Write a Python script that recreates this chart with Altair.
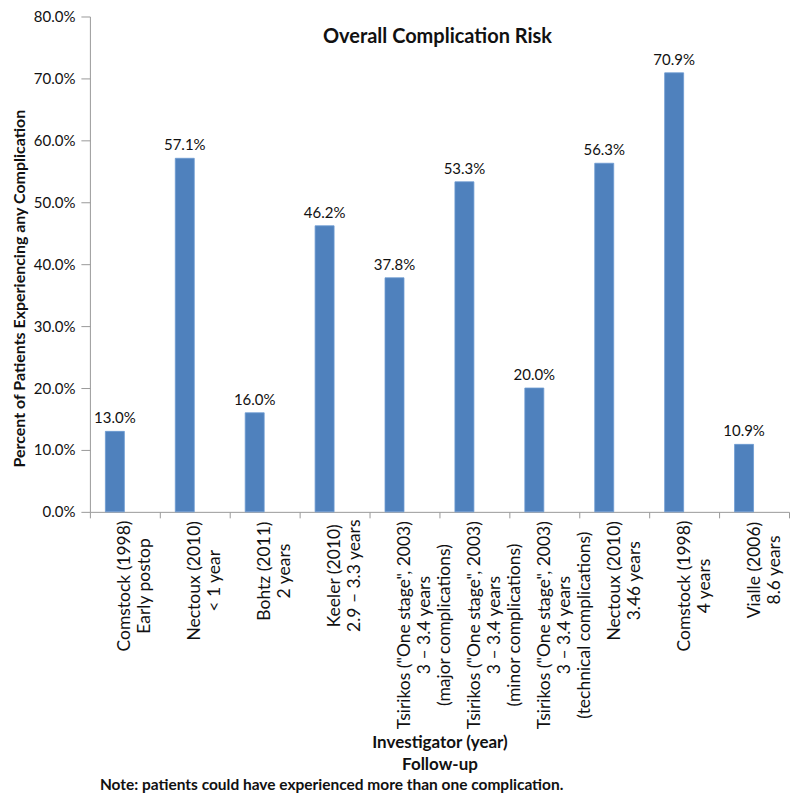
import json
import altair as alt
import pandas as pd

# study / follow-up / subgroup, one entry per bar
investigators = ["Comstock (1998)", "Nectoux (2010)", "Bohtz (2011)", "Keeler (2010)",
                 'Tsirikos ("One stage", 2003)', 'Tsirikos ("One stage", 2003)',
                 'Tsirikos ("One stage", 2003)', "Nectoux (2010)", "Comstock (1998)",
                 "Vialle (2006)"]
follow_up = ["Early postop", "< 1 year", "2 years", "2.9 – 3.3 years", "3 – 3.4 years",
             "3 – 3.4 years", "3 – 3.4 years", "3.46 years", "4 years", "8.6 years"]
subgroup = ["", "", "", "", "(major complications)", "(minor complications)",
            "(technical complications)", "", "", ""]
risk = [0.130, 0.571, 0.160, 0.462, 0.378, 0.533, 0.200, 0.563, 0.709, 0.109]
y_ticks = [0.0, 0.1, 0.2, 0.3, 0.4, 0.5, 0.6, 0.7, 0.8]

label_lines = [[p for p in parts if p] for parts in zip(investigators, follow_up, subgroup)]
labels = ["|".join(lines) for lines in label_lines]
df = pd.DataFrame({"label": labels, "risk": risk})

FONT = "Lato"
AXIS_GREY = "#9a9a9a"
XLAB_SIZE = 17.5

# rough Lato advance widths (em) so each rotated label block can be centred
# line-by-line while its longest line still starts just under the axis
NARROW = {" ": .19, "i": .23, "l": .23, "j": .23, ".": .22, ",": .22, "(": .3, ")": .3,
          '"': .37, "t": .34, "f": .31, "r": .35, "s": .4, "c": .45, "-": .33}
WIDE = {"m": .83, "O": .76, "N": .75, "V": .68, "C": .64, "K": .63, "B": .62, "T": .57}


def text_width(s):
    return sum(NARROW.get(ch, WIDE.get(ch, .53)) for ch in s) * XLAB_SIZE


pads = [round(max(text_width(l) for l in lines) / 2 + 5, 1) for lines in label_lines]
pad_expr = f"{json.dumps(pads)}[indexof({json.dumps(labels)}, datum.value)]"

x = alt.X("label:N", sort=None,
          scale=alt.Scale(paddingInner=0, paddingOuter=0),
          axis=alt.Axis(labelExpr="split(datum.label, '|')", labelAngle=270,
                        labelAlign="center", labelBaseline="middle",
                        labelFontSize=XLAB_SIZE, labelLineHeight=20, labelLimit=400,
                        labelPadding=alt.ExprRef(expr=pad_expr),
                        labelColor="#111", labelFont=FONT,
                        tickBand="extent", tickSize=6, tickColor=AXIS_GREY,
                        domainColor=AXIS_GREY,
                        title=["Investigator (year)", "Follow-up"],
                        titleFont=FONT, titleFontSize=17, titleFontWeight="bold",
                        titleColor="#111", titlePadding=23, titleLineHeight=22))
y = alt.Y("risk:Q", scale=alt.Scale(domain=[0, 0.8], nice=False),
          axis=alt.Axis(format=".1%", values=y_ticks, grid=False,
                        tickSize=9, tickColor=AXIS_GREY, domainColor=AXIS_GREY,
                        labelFontSize=15, labelPadding=6, labelColor="#111", labelFont=FONT,
                        title="Percent of Patients Experiencing any Complication",
                        titleFont=FONT, titleFontSize=16, titleFontWeight="bold",
                        titleColor="#111", titleY=272, titlePadding=6))

bars = alt.Chart(df).mark_bar(size=19, xOffset=-10, color="#4f81bd",
                              stroke="#6c9bd2", strokeWidth=0.8).encode(x=x, y=y)
values = alt.Chart(df).mark_text(xOffset=-10, dy=-5, baseline="bottom", fontSize=15,
                                 font=FONT, color="#111").encode(
    x=x, y=y, text=alt.Text("risk:Q", format=".1%"))

main = (bars + values).properties(
    width=700, height=496,
    title=alt.Title("Overall Complication Risk", font=FONT, fontSize=20,
                    fontWeight="bold", color="#111", offset=-38, dx=-2),
)

chart = alt.vconcat(main).properties(
    title=alt.Title("Note: patients could have experienced more than one complication.",
                    orient="bottom", anchor="start", frame="group", dx=10, offset=5,
                    font=FONT, fontSize=15.5, fontWeight="bold", color="#111"),
    padding={"left": 3, "top": 1, "right": 0, "bottom": 0},
).configure_view(stroke=None)

chart.save("out.html", embed_options={"renderer": "svg", "actions": False})
